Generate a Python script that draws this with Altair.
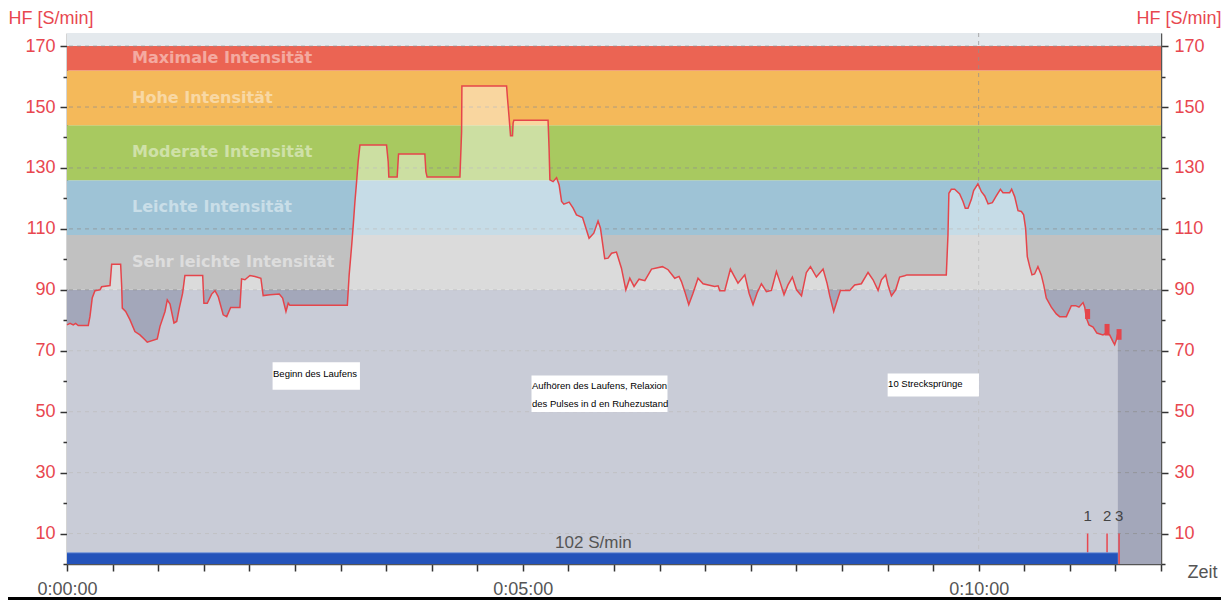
import altair as alt
import pandas as pd

# ---------------- data ----------------
hr_t = [0, 2.0, 4.1, 5.7, 7.4, 14.0, 15.1, 16.6, 18.4, 21.7, 22.8, 28.3, 29.4, 35.3, 36.0, 36.4,
        38.6, 41.4, 44.7, 48.0, 51.3, 52.8, 59.4, 61.2, 64.5, 66.0, 67.8, 70.4, 72.2, 73.9, 76.1,
        77.6, 89.3, 90.1, 92.3, 95.2, 97.4, 99.5, 102.8, 105.1, 107.7, 113.8, 114.9, 117.1, 120.4,
        123.7, 127.6, 129.1, 133.6, 139.7, 141.9, 144.1, 145.6, 146.7, 184.5, 185.7, 187.3, 188.4,
        189.5, 190.6, 191.6, 192.8, 210.3, 211.4, 211.8, 217.3, 218.2, 235.5, 236.2, 237.0, 258.6,
        259.7, 259.9, 289.3, 289.9, 291.0, 291.9, 293.2, 293.6, 294.1, 316.6, 317.3, 317.8, 319.9,
        322.2, 323.9, 325.5, 327.0, 330.5, 333.1, 335.3, 339.3, 343.6, 346.7, 349.5, 351.1, 353.9,
        356.1, 358.4, 361.6, 364.9, 367.8, 370.4, 373.2, 376.5, 380.3, 384.7, 391.9, 395.6, 400.0,
        402.8, 404.4, 406.6, 409.2, 412.0, 415.3, 418.6, 426.3, 428.5, 429.6, 432.9, 436.6, 441.6,
        446.1, 448.9, 451.5, 454.1, 457.0, 460.3, 463.6, 466.9, 469.5, 471.9, 474.5, 477.4, 480.1,
        483.4, 486.6, 489.3, 493.2, 497.6, 500.2, 502.0, 504.6, 507.4, 509.0, 515.1, 518.4, 522.8,
        527.2, 530.5, 533.8, 536.0, 538.8, 540.3, 542.6, 545.4, 548.0, 551.3, 552.8, 578.7, 579.8,
        580.4, 582.0, 584.2, 587.5, 589.7, 591.2, 593.0, 595.2, 596.7, 599.5, 601.8, 604.0, 606.2,
        609.0, 611.6, 614.3, 616.0, 620.4, 621.7, 623.7, 625.9, 628.1, 629.6, 630.9, 632.0, 633.6,
        635.1, 636.8, 639.0, 641.2, 642.8, 644.5, 647.8, 651.1, 653.3, 657.7, 661.0, 663.8, 666.0,
        668.7, 669.8, 670.9, 672.6, 675.3, 677.8, 681.8, 684.0, 686.2, 688.4, 689.5, 690.6, 691.6]
hr_v = [78.5, 79, 78.5, 79, 78.3, 78.3, 81.2, 87.3, 89.7, 90, 91, 91.4, 98.4, 98.4, 91, 84,
        82.9, 80.2, 76.3, 75.2, 73.6, 72.8, 73.9, 78, 82.9, 86.7, 85.3, 79.1, 79.6, 84, 88.9,
        94.7, 94.7, 85.6, 85.6, 88.6, 89.7, 87.8, 81.8, 81.2, 84.2, 84.2, 93.6, 93.3, 94.7,
        94.4, 93.8, 88.1, 88.4, 88.6, 87.3, 82.9, 85.6, 84.9, 84.9, 94.9, 104.2, 111.3,
        119, 125.5, 132, 137.5, 137.5, 132, 127, 127, 134.6, 134.6, 128.8, 127, 127,
        141.9, 156.9, 156.9, 152.9, 146.3, 140.6, 140.6, 144.7, 145.7, 145.7, 135.9, 126.1, 125.5,
        126.8, 124.4, 119, 118.1, 118.8, 116.8, 114.6, 113.7, 106.9, 108.6, 112.6, 110.2, 100.2,
        100.4, 102, 102.4, 97.1, 90, 93.8, 91.1, 93.5, 93, 96.8, 97.6, 96.6, 93.8,
        94.4, 92.7, 89.4, 85.1, 88.9, 93.8, 92, 91.1, 91.3, 89.7, 89.7, 96.8, 92.2,
        94.9, 88.9, 85.1, 88.9, 92, 89.4, 89.8, 96, 92.2, 88.4, 91.6, 94.2, 90,
        88, 95.7, 97.6, 94.2, 96.8, 92.2, 88, 82.9, 87.3, 89.8, 89.8, 91.6, 92,
        95.7, 93.3, 89.8, 93.3, 94.9, 91.6, 88, 90, 94.2, 94.6, 94.9, 94.9, 108,
        121.7, 123, 123, 121.5, 119, 116.8, 116.8, 119.7, 122.6, 124.8, 122.2, 120.8, 118.2,
        118.6, 120.8, 123, 121.9, 121.9, 123, 120.6, 116, 115.7, 114.6, 110.2, 100.9, 97.6,
        94.9, 95.2, 97.6, 94.9, 91.6, 87.3, 84.3, 82.1, 81.2, 81.2, 84.8, 84.8, 84.3,
        85.8, 84.3, 80.7, 78.5, 77.8, 75.8, 75.2, 75.8, 75.2, 73, 72, 73.6, 75.8]

zone_names = ["", "Sehr leichte Intensität", "Leichte Intensität", "Moderate Intensität",
              "Hohe Intensität", "Maximale Intensität", ""]
zone_lo = [0, 90, 108, 126, 144, 162, 170]
zone_hi = [90, 108, 126, 144, 162, 170, 174.3]
zone_colors = ["#A3A7BA", "#C1C1C1", "#9EC3D6", "#A8C960", "#F4B95A", "#EB6453", "#E4E9ED"]
zone_label_v = [None, 99.2, 117.2, 135.2, 153.0, 166.0, None]
zone_label_t = 42.8

grid_y = [10, 30, 50, 70, 90, 110, 130, 150, 170]
grid_x = [600]

marker_t = [671.7, 684.5, 692.4]
marker_labels = ["1", "2", "3"]
marker_block_lo = [80.4, 75.0, 73.6]
marker_block_hi = [83.7, 78.8, 77.1]

avg_text = "102 S/min"
avg_end_t = 691.6
avg_bar_top = 3.7

ann_x0 = [135.3, 305.7, 540.1]
ann_x1 = [192.8, 395.2, 600.2]
ann_y0 = [57.2, 49.9, 55.0]
ann_y1 = [66.2, 61.9, 62.5]
ann_text_t = [135.6, 306.0, 540.4]
ann_text_v = [62.5, 58.5, 52.6, 59.2]
ann_text = ["Beginn des Laufens", "Aufhören des Laufens, Relaxion",
            "des Pulses in d en Ruhezustand", "10 Strecksprünge"]
ann_text_box = [0, 1, 1, 2]

X_MAX = 720
Y_MAX = 174.3
RED = "#E5454B"
LABEL_RED = "#E8474F"
GREY_TXT = "#555555"

# ---------------- tables ----------------
hr = pd.DataFrame({"t": hr_t, "v": hr_v})
zones = pd.DataFrame({"name": zone_names, "lo": zone_lo, "hi": zone_hi, "color": zone_colors,
                      "lv": zone_label_v})
zones["t0"] = 0
zones["t1"] = X_MAX
zones["lt"] = zone_label_t
zone_lbl = zones[zones["name"] != ""]
gy = pd.DataFrame({"y": grid_y})
gx = pd.DataFrame({"x": grid_x})
mk = pd.DataFrame({"t": marker_t, "lab": marker_labels, "lo": marker_block_lo,
                   "hi": marker_block_hi})
mk["y0"] = 0
mk["y1"] = 10
mk["ly"] = 15.6
avg = pd.DataFrame({"t0": [0], "t1": [avg_end_t], "y0": [0], "y1": [avg_bar_top],
                    "tx": [346.4], "ty": [7.0], "txt": [avg_text]})
boxes = pd.DataFrame({"x0": ann_x0, "x1": ann_x1, "y0": ann_y0, "y1": ann_y1})
anntxt = pd.DataFrame({"txt": ann_text, "v": ann_text_v,
                       "t": [ann_text_t[i] for i in ann_text_box]})

xs = alt.Scale(domain=[0, X_MAX], nice=False, zero=False)
ys = alt.Scale(domain=[0, Y_MAX], nice=False, zero=False)

y_tick_vals = list(range(0, 171, 10))
y_lbl_expr = "datum.value % 20 == 10 ? datum.label : ''"
tick_cond = {"condition": {"test": "datum.value % 20 == 10", "value": 7}, "value": 4}

left_axis = alt.Axis(values=y_tick_vals, labelExpr=y_lbl_expr, orient="left", grid=False,
                     labelColor=LABEL_RED, labelFont="Liberation Sans", labelFontSize=18,
                     labelPadding=5, tickColor="#333333", tickSize=tick_cond, tickWidth=1.5,
                     domainColor="#555555", domainWidth=1.5, labelFlush=False,
                     title="HF [S/min]", titleAngle=0, titleX=-59, titleY=-15,
                     titleAlign="left", titleBaseline="middle", titleColor=LABEL_RED,
                     titleFont="Liberation Sans", titleFontSize=18, titleFontWeight="normal")
right_axis = alt.Axis(values=y_tick_vals, labelExpr=y_lbl_expr, orient="right", grid=False,
                      labelColor=LABEL_RED, labelFont="Liberation Sans", labelFontSize=18,
                      labelPadding=6, tickColor="#333333", tickSize=tick_cond, tickWidth=1.5,
                      domainColor="#555555", domainWidth=1.5, labelFlush=False,
                      title="HF [S/min]", titleAngle=0, titleX=60, titleY=-15,
                      titleAlign="right", titleBaseline="middle", titleColor=LABEL_RED,
                      titleFont="Liberation Sans", titleFontSize=18, titleFontWeight="normal")
x_axis = alt.Axis(values=list(range(0, X_MAX + 1, 30)), grid=False, orient="bottom",
                  labelExpr="datum.value % 300 == 0 ? '0:' + (datum.value/60 < 10 ? '0' : '') + (datum.value/60) + ':00' : ''",
                  labelColor=GREY_TXT, labelFont="Liberation Sans", labelFontSize=18,
                  labelPadding=9, tickColor="#333333", tickSize=7, tickWidth=1.5,
                  domainColor="#555555", domainWidth=1.5, labelFlush=False, labelOverlap=False,
                  title="Zeit", titleX=1120, titleY=8, titleAlign="left",
                  titleBaseline="middle", titleColor=GREY_TXT, titleFont="Liberation Sans",
                  titleFontSize=18, titleFontWeight="normal")


def X(field):
    return alt.X(field, scale=xs, axis=x_axis)


def Y(field):
    return alt.Y(field, scale=ys, axis=None)


bands = alt.Chart(zones).mark_rect().encode(
    x=X("t0:Q"), x2="t1:Q",
    y=alt.Y("lo:Q", scale=ys, axis=left_axis), y2="hi:Q",
    color=alt.Color("color:N", scale=None))

grid_h = alt.Chart(gy).mark_rule(color="#8E8E8E", strokeDash=[4, 4], strokeWidth=1,
                                 opacity=0.7).encode(y=Y("y:Q"))
grid_v = alt.Chart(gx).mark_rule(color="#8E8E8E", strokeDash=[4, 4], strokeWidth=1,
                                 opacity=0.7).encode(x=X("x:Q"))

zlabels = alt.Chart(zone_lbl).mark_text(align="left", baseline="middle", font="DejaVu Sans",
                                        fontWeight="bold", fontSize=16, color="white",
                                        opacity=0.45).encode(
    x=X("lt:Q"), y=Y("lv:Q"), text="name:N")

overlay = alt.Chart(hr).mark_area(color="white", opacity=0.42, interpolate="linear").encode(
    x=X("t:Q"), y=Y("v:Q"))
line = alt.Chart(hr).mark_line(color=RED, strokeWidth=1.5).encode(
    x=X("t:Q"), y=alt.Y("v:Q", scale=ys, axis=right_axis))

blocks = alt.Chart(mk).mark_rule(color=RED, strokeWidth=5).encode(
    x=X("t:Q"), y=Y("lo:Q"), y2="hi:Q")
mlines = alt.Chart(mk).mark_rule(color=LABEL_RED, strokeWidth=1.5).encode(
    x=X("t:Q"), y=Y("y0:Q"), y2="y1:Q")
mlabels = alt.Chart(mk).mark_text(font="Liberation Sans", fontSize=15, color="#444444",
                                  baseline="middle").encode(
    x=X("t:Q"), y=Y("ly:Q"), text="lab:N")

avgbar = alt.Chart(avg).mark_rect(color="#2453BA").encode(
    x=X("t0:Q"), x2="t1:Q", y=Y("y0:Q"), y2="y1:Q")
avgtop = alt.Chart(avg).mark_rule(color="#7D9BD9", strokeWidth=1).encode(
    x=X("t0:Q"), x2="t1:Q", y=Y("y1:Q"))
avgtxt = alt.Chart(avg).mark_text(font="Liberation Sans", fontSize=17, color=GREY_TXT,
                                  baseline="middle").encode(
    x=X("tx:Q"), y=Y("ty:Q"), text="txt:N")

abox = alt.Chart(boxes).mark_rect(color="white").encode(
    x=X("x0:Q"), x2="x1:Q", y=Y("y0:Q"), y2="y1:Q")
atext = alt.Chart(anntxt).mark_text(align="left", baseline="middle",
                                    font="Liberation Sans", fontSize=9.5,
                                    color="black").encode(
    x=X("t:Q"), y=Y("v:Q"), text="txt:N")

bottom_bar = alt.Chart(pd.DataFrame({"k": [0]})).mark_rect(color="black", clip=False).encode(
    x=alt.value(-59), x2=alt.value(1154), y=alt.value(564), y2=alt.value(568))

chart = alt.layer(
    bands, grid_h, grid_v, zlabels, overlay, line, blocks, mlines, avgbar, avgtop,
    avgtxt, mlabels, abox, atext, bottom_bar
).properties(
    width=1094, height=531,
    autosize=alt.AutoSizeParams(type="none"),
    padding={"left": 59, "top": 25, "right": 60, "bottom": 36},
).configure_view(stroke="#555555", strokeWidth=1.5).configure(background="white")

chart.save("out.html", embed_options={"renderer": "svg", "actions": False})
